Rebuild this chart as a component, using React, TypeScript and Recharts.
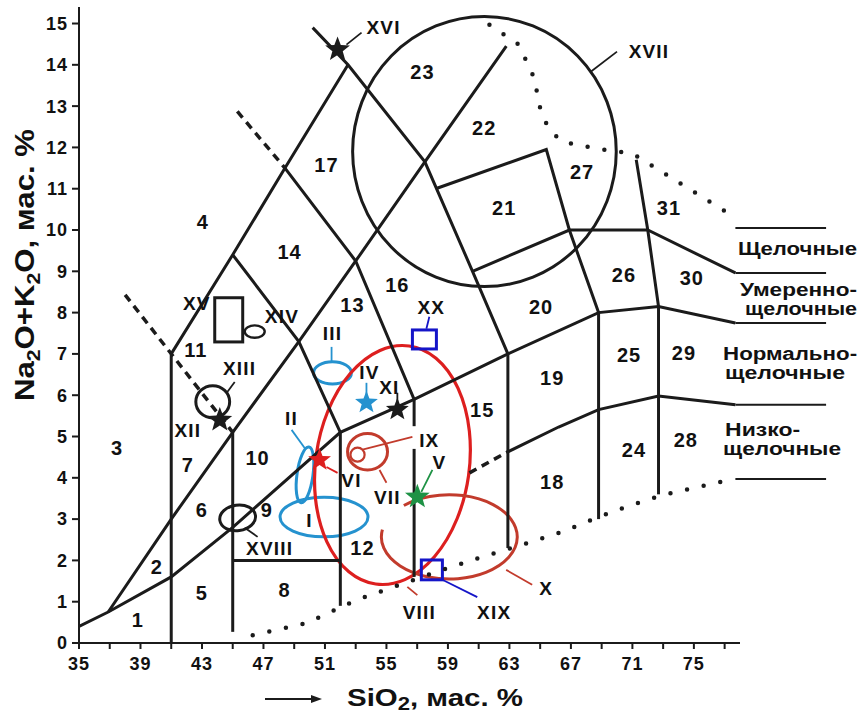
import React from "react";
import {
  ComposedChart,
  Line,
  Scatter,
  XAxis,
  YAxis,
  ReferenceLine,
  ReferenceArea,
  ReferenceDot,
} from "recharts";

type Pt = { x: number; y: number };
const p = (x: number, y: number): Pt => ({ x, y });

const FONT = "'Liberation Sans', Arial, sans-serif";
const INK = "#1b1b1b";
const LIGHT_BLUE = "#2592cf";
const DARK_BLUE = "#1515c8";
const RED = "#dd1f1f";
const BROWN_RED = "#c23b2c";
const GREEN = "#1e9245";

const SIO2_TICKS = [35, 37, 39, 41, 43, 45, 47, 49, 51, 53, 55, 57, 59, 61, 63, 65, 67, 69, 71, 73, 75, 77];
const ALK_TICKS = [0, 1, 2, 3, 4, 5, 6, 7, 8, 9, 10, 11, 12, 13, 14, 15];

// field boundaries, SiO2 vs Na2O+K2O
const NORMAL_MODERATE = [p(35, 0.4), p(36.9, 0.75), p(41, 1.6), p(45, 2.8), p(52, 5.1), p(56.8, 5.9), p(62.9, 7.0), p(68.8, 8.0), p(72.7, 8.15), p(77.7, 7.75)];
const ULTRABASIC = [p(36.9, 0.75), p(41, 3.0), p(45, 5.1), p(49.3, 7.3), p(53, 9.25), p(57.5, 11.65), p(62.8, 14.45)];
const FOIDITE = [p(41, 7), p(45, 9.4), p(48.4, 11.5), p(52.5, 14)];
const PHONOLITE = [p(50.2, 14.9), p(52.5, 14), p(57.5, 11.65), p(60.6, 9.0), p(62.9, 7.0)];
const TEPHRITE = [p(45, 9.4), p(49.3, 7.3), p(52, 5.1)];
const TRACHY = [p(48.4, 11.5), p(53, 9.25), p(56.8, 5.9)];
const ALKALINE = [p(60.6, 9.0), p(66.9, 10.0), p(72.0, 10.0), p(77.7, 8.96)];
const FIELD_27 = [p(58.2, 11.0), p(65.4, 11.95), p(66.9, 10.0), p(68.8, 8.0)];
const FIELD_31 = [p(71.25, 11.7), p(72.0, 10.0), p(72.7, 8.15)];
const LOW_NORMAL = [p(62.9, 4.63), p(66.2, 5.23), p(68.8, 5.65), p(72.7, 5.98), p(77.7, 5.77)];
const STRAIGHTS: Pt[][] = [
  [p(41, 0), p(41, 7)],
  [p(45, 0.27), p(45, 5.1)],
  [p(52, 0.9), p(52, 5.1)],
  [p(56.8, 5.9), p(56.8, 5.25)],
  [p(56.8, 4.7), p(56.8, 1.6)],
  [p(62.9, 7.0), p(62.9, 2.3)],
  [p(68.8, 8.0), p(68.8, 3.0)],
  [p(72.7, 8.15), p(72.7, 3.6)],
  [p(45, 2.0), p(52, 2.0)],
];
const DASHED: Pt[][] = [
  [p(38, 8.43), p(45, 5.1)],
  [p(45.3, 12.87), p(48.4, 11.5)],
  [p(60.4, 4.12), p(62.9, 4.63)],
];
const TOP_DOTTED = [p(61.7, 14.97), p(63.6, 14.49), p(64.6, 13.69), p(65.06, 12.84), p(65.6, 12.43), p(66.4, 12.14), p(68.7, 11.97), p(71.0, 11.85), p(77.1, 10.44)];
const BOTTOM_DOTTED = [p(46.3, 0.19), p(49.8, 0.48), p(53.05, 1.04), p(56.4, 1.48), p(58.25, 1.72), p(60.84, 2.04), p(64.16, 2.42), p(66.43, 2.69), p(68.64, 3.03), p(70.78, 3.32), p(73.05, 3.59), p(75.32, 3.78), p(77.6, 3.97)];

// series names on the right side
const SIDE_LEVELS = [10.05, 8.96, 7.75, 5.77, 3.97];
const SIDE_FROM = 77.7;
const SIDE_TO = 83.6;
const SIDE_LABELS = [
  { x: 77.87, y: 9.56, t: "Щелочные" },
  { x: 78.0, y: 8.55, t: "Умеренно-" },
  { x: 78.33, y: 8.11, t: "щелочные" },
  { x: 76.9, y: 7.02, t: "Нормально-" },
  { x: 77.03, y: 6.56, t: "щелочные" },
  { x: 77.03, y: 5.16, t: "Низко-" },
  { x: 76.9, y: 4.72, t: "щелочные" },
];
const SIDE_WIDTHS = [119, 117, 112, 134, 120, 75, 118];

const FIELD_NUMBERS = [
  { x: 38.83, y: 0.56, t: "1" }, { x: 40.06, y: 1.84, t: "2" }, { x: 37.47, y: 4.72, t: "3" },
  { x: 43.05, y: 10.2, t: "4" }, { x: 42.99, y: 1.21, t: "5" }, { x: 42.99, y: 3.22, t: "6" },
  { x: 42.08, y: 4.31, t: "7" }, { x: 48.38, y: 1.28, t: "8" }, { x: 47.21, y: 3.22, t: "9" },
  { x: 46.62, y: 4.48, t: "10" }, { x: 42.6, y: 7.1, t: "11" }, { x: 53.44, y: 2.3, t: "12" },
  { x: 52.79, y: 8.19, t: "13" }, { x: 48.7, y: 9.47, t: "14" }, { x: 61.23, y: 5.65, t: "15" },
  { x: 55.71, y: 8.67, t: "16" }, { x: 51.1, y: 11.58, t: "17" }, { x: 65.78, y: 3.9, t: "18" },
  { x: 65.78, y: 6.42, t: "19" }, { x: 65.06, y: 8.14, t: "20" }, { x: 62.66, y: 10.54, t: "21" },
  { x: 61.36, y: 12.48, t: "22" }, { x: 57.34, y: 13.84, t: "23" }, { x: 71.1, y: 4.68, t: "24" },
  { x: 70.78, y: 6.98, t: "25" }, { x: 70.45, y: 8.92, t: "26" }, { x: 67.73, y: 11.41, t: "27" },
  { x: 74.48, y: 4.92, t: "28" }, { x: 74.35, y: 7.03, t: "29" }, { x: 74.87, y: 8.84, t: "30" },
  { x: 73.38, y: 10.54, t: "31" },
];

const OBJECT_LABELS = [
  { x: 50.0, y: 2.98, t: "I" }, { x: 48.83, y: 5.45, t: "II" }, { x: 51.49, y: 7.51, t: "III" },
  { x: 53.9, y: 6.57, t: "IV" }, { x: 58.44, y: 4.39, t: "V" }, { x: 52.73, y: 3.95, t: "VI" },
  { x: 55.06, y: 3.54, t: "VII" }, { x: 57.14, y: 0.75, t: "VIII" }, { x: 57.79, y: 4.92, t: "IX" },
  { x: 65.39, y: 1.33, t: "X" }, { x: 55.19, y: 6.2, t: "XI" }, { x: 42.08, y: 5.16, t: "XII" },
  { x: 45.45, y: 6.66, t: "XIII" }, { x: 48.2, y: 7.92, t: "XIV" }, { x: 42.66, y: 8.24, t: "XV" },
  { x: 54.81, y: 14.9, t: "XVI" }, { x: 72.08, y: 14.32, t: "XVII" }, { x: 47.4, y: 2.3, t: "XVIII" },
  { x: 62.01, y: 0.75, t: "XIX" }, { x: 57.92, y: 8.14, t: "XX" },
];

const STARS = [
  { x: 51.82, y: 14.37, id: "XVI" },
  { x: 44.16, y: 5.4, id: "XII" },
  { x: 55.71, y: 5.65, id: "XI" },
  { x: 53.7, y: 5.82, id: "IV" },
  { x: 50.65, y: 4.43, id: "VI" },
  { x: 57.01, y: 3.54, id: "V" },
];

// ellipse outlines given by their bounding boxes
const OVALS = [
  { id: "XVII", x1: 52.8, x2: 69.95, y1: 8.63, y2: 15.17 },
  { id: "XIV", x1: 45.78, x2: 47.08, y1: 7.39, y2: 7.69 },
  { id: "XIII", x1: 42.6, x2: 44.8, y1: 5.45, y2: 6.23 },
  { id: "XVIII", x1: 44.15, x2: 46.49, y1: 2.72, y2: 3.34 },
  { id: "III", x1: 50.26, x2: 52.72, y1: 6.27, y2: 6.81 },
  { id: "II", x1: 49.18, x2: 50.22, y1: 3.39, y2: 4.75 },
  { id: "I", x1: 48.08, x2: 53.8, y1: 2.57, y2: 3.53 },
  { id: "BIG", x1: 50.39, x2: 60.39, y1: 1.4, y2: 7.22 },
  { id: "VII", x1: 52.47, x2: 55.07, y1: 4.19, y2: 5.07 },
  { id: "IX", x1: 52.66, x2: 53.58, y1: 4.39, y2: 4.73 },
];
const X_LOOP = { x1: 54.67, x2: 63.51, y1: 1.55, y2: 3.59 };

const BOXES = [
  { id: "XV", x1: 43.83, x2: 45.65, y1: 7.29, y2: 8.36 },
  { id: "XX", x1: 56.69, x2: 58.25, y1: 7.12, y2: 7.58 },
  { id: "XIX", x1: 57.27, x2: 58.64, y1: 1.53, y2: 2.01 },
];

const LEADERS = [
  { id: "XVII", a: p(70.0, 14.32), b: p(68.31, 13.84) },
  { id: "XVI", a: p(53.38, 14.78), b: p(52.4, 14.49) },
  { id: "XIII", a: p(44.61, 6.06), b: p(45.13, 6.32) },
  { id: "XVIII", a: p(45.78, 2.79), b: p(46.62, 2.57) },
  { id: "XX", a: p(57.79, 7.9), b: p(57.6, 7.61) },
  { id: "III", a: p(51.43, 7.17), b: p(51.43, 6.81) },
  { id: "IV", a: p(53.7, 6.3), b: p(53.7, 5.96) },
  { id: "XI", a: p(55.71, 6.06), b: p(55.71, 5.82) },
  { id: "II", a: p(48.83, 5.16), b: p(49.68, 4.72) },
  { id: "VI", a: p(51.1, 4.26), b: p(51.82, 4.12) },
  { id: "VII", a: p(54.55, 4.19), b: p(55.0, 3.88) },
  { id: "IX", a: p(53.44, 4.68), b: p(56.69, 4.99) },
  { id: "V", a: p(57.99, 4.19), b: p(57.27, 3.66) },
  { id: "X", a: p(62.79, 1.77), b: p(64.48, 1.41) },
  { id: "VIII", a: p(56.36, 1.36), b: p(57.01, 1.16) },
  { id: "XIX", a: p(58.64, 1.53), b: p(60.91, 1.11) },
];

const COLOR: Record<string, string> = {
  I: LIGHT_BLUE, II: LIGHT_BLUE, III: LIGHT_BLUE, IV: LIGHT_BLUE,
  V: GREEN, VI: RED, BIG: RED, VII: BROWN_RED, VIII: BROWN_RED, IX: BROWN_RED, X: BROWN_RED,
  XIX: DARK_BLUE, XX: DARK_BLUE,
};
const colorOf = (id: string) => COLOR[id] ?? INK;
const TILT: Record<string, number> = { BIG: 8, II: 8, XVIII: -8 };
const WIDTH: Record<string, number> = { XVII: 3, BIG: 3.2, IX: 2.2, XIV: 2.4 };

function starPoints(cx: number, cy: number, r: number) {
  const pts: string[] = [];
  for (let i = 0; i < 10; i++) {
    const rr = i % 2 ? r * 0.42 : r;
    const a = -Math.PI / 2 + (i * Math.PI) / 5;
    pts.push(`${cx + rr * Math.cos(a)},${cy + rr * Math.sin(a)}`);
  }
  return pts.join(" ");
}

const textShape = (size: number, spacing: number) => (props: any) => {
  const t = props.payload?.t ?? props.t;
  return (
    <text x={props.cx} y={props.cy} dy="0.36em" textAnchor="middle" fontSize={size} fontWeight={700} fontFamily={FONT} letterSpacing={spacing} fill="#111">
      {t}
    </text>
  );
};

const starShape = (props: any) => {
  const id = props.payload?.id ?? props.id;
  const r = id === "XVI" || id === "XII" || id === "V" ? 13 : 12;
  return <polygon points={starPoints(props.cx, props.cy, r)} fill={colorOf(id)} />;
};

const ovalShape = (id: string) => (r: any) => {
  const cx = r.x + r.width / 2;
  const cy = r.y + r.height / 2;
  const tilt = TILT[id];
  return (
    <ellipse
      cx={cx}
      cy={cy}
      rx={Math.abs(r.width) / 2}
      ry={Math.abs(r.height) / 2}
      fill="none"
      stroke={colorOf(id)}
      strokeWidth={WIDTH[id] ?? 3}
      transform={tilt ? `rotate(${tilt} ${cx} ${cy})` : undefined}
    />
  );
};

const loopShape = (r: any) => {
  const cx = r.x + r.width / 2;
  const cy = r.y + r.height / 2;
  const rx = Math.abs(r.width) / 2;
  const ry = Math.abs(r.height) / 2;
  const a1 = (228 * Math.PI) / 180;
  const a2 = (190 * Math.PI) / 180;
  const d = `M ${cx + rx * Math.cos(a1)} ${cy + ry * Math.sin(a1)} A ${rx} ${ry} 0 1 1 ${cx + rx * Math.cos(a2)} ${cy + ry * Math.sin(a2)}`;
  return <path d={d} fill="none" stroke={BROWN_RED} strokeWidth={3} />;
};

const boxShape = (id: string) => (r: any) => (
  <rect x={r.x} y={r.y} width={Math.abs(r.width)} height={Math.abs(r.height)} fill="none" stroke={colorOf(id)} strokeWidth={3} />
);

function YTitle(props: any) {
  const vb = props.viewBox ?? { x: 19, y: 7, width: 60, height: 636 };
  const cx = vb.x + 5;
  const cy = vb.y + 258;
  return (
    <text x={cx} y={cy} dy="0.36em" textAnchor="middle" transform={`rotate(-90 ${cx} ${cy})`} fontSize={28} fontWeight={700} fontFamily={FONT} fill="#111" textLength={272} lengthAdjust="spacingAndGlyphs">
      Na<tspan dy={6} fontSize={19}>2</tspan>
      <tspan dy={-6}>O+K</tspan>
      <tspan dy={6} fontSize={19}>2</tspan>
      <tspan dy={-6}>O, мас. %</tspan>
    </text>
  );
}

function XTitle(props: any) {
  const vb = props.viewBox ?? { x: 79, y: 643, width: 661, height: 40 };
  const y = vb.y + 56;
  const x0 = vb.x + 186;
  return (
    <g>
      <line x1={x0} y1={y} x2={x0 + 50} y2={y} stroke={INK} strokeWidth={2} />
      <polygon points={`${x0 + 57},${y} ${x0 + 46},${y - 4} ${x0 + 46},${y + 4}`} fill={INK} />
      <text x={vb.x + 268} y={y + 7} fontSize={24} fontWeight={700} fontFamily={FONT} fill="#111" textLength={176} lengthAdjust="spacingAndGlyphs">
        SiO<tspan dy={4} fontSize={18}>2</tspan>
        <tspan dy={-4}>, мас. %</tspan>
      </text>
    </g>
  );
}

const lineProps = {
  dataKey: "y",
  dot: false,
  activeDot: false,
  isAnimationActive: false,
  type: "linear" as const,
  stroke: INK,
  legendType: "none" as const,
};

export default function App() {
  const solid = [NORMAL_MODERATE, ULTRABASIC, FOIDITE, PHONOLITE, TEPHRITE, TRACHY, ALKALINE, FIELD_27, FIELD_31, LOW_NORMAL, ...STRAIGHTS];
  const tick = { fontSize: 18, fontWeight: 700, fill: "#111", fontFamily: FONT, letterSpacing: 1 };
  return (
    <div style={{ position: "absolute", left: 0, top: 0, width: 861, height: 715, background: "#fff" }}>
      <ComposedChart width={861} height={715} margin={{ top: 7, right: 121, bottom: 32, left: 19 }}>
        <XAxis
          type="number"
          dataKey="x"
          domain={[35, 78]}
          ticks={SIO2_TICKS}
          interval={0}
          allowDataOverflow
          tickFormatter={(v: number) => ((v - 35) % 4 === 0 ? String(v) : "")}
          tickSize={6}
          tickMargin={8}
          height={40}
          axisLine={{ stroke: INK, strokeWidth: 2 }}
          tickLine={{ stroke: INK, strokeWidth: 2 }}
          tick={tick}
          label={<XTitle />}
        />
        <YAxis
          type="number"
          dataKey="y"
          domain={[0, 15.4]}
          ticks={ALK_TICKS}
          interval={0}
          allowDataOverflow
          width={60}
          tickSize={7}
          tickMargin={4}
          axisLine={{ stroke: INK, strokeWidth: 2 }}
          tickLine={{ stroke: INK, strokeWidth: 2 }}
          tick={tick}
          label={<YTitle />}
        />

        {solid.map((d, i) => (
          <Line key={`s${i}`} {...lineProps} data={d} strokeWidth={3} />
        ))}
        {DASHED.map((d, i) => (
          <Line key={`d${i}`} {...lineProps} data={d} strokeWidth={3.5} strokeDasharray="8 6" />
        ))}
        {[TOP_DOTTED, BOTTOM_DOTTED].map((d, i) => (
          <Line key={`o${i}`} {...lineProps} data={d} strokeWidth={4.5} strokeDasharray="0 17" strokeLinecap="round" />
        ))}

        {SIDE_LEVELS.map((lv) => (
          <ReferenceLine key={`h${lv}`} segment={[{ x: SIDE_FROM, y: lv }, { x: SIDE_TO, y: lv }]} stroke={INK} strokeWidth={2} ifOverflow="visible" />
        ))}

        {OVALS.map((o) => (
          <ReferenceArea key={o.id} x1={o.x1} x2={o.x2} y1={o.y1} y2={o.y2} ifOverflow="visible" shape={ovalShape(o.id)} />
        ))}
        <ReferenceArea x1={X_LOOP.x1} x2={X_LOOP.x2} y1={X_LOOP.y1} y2={X_LOOP.y2} ifOverflow="visible" shape={loopShape} />
        {BOXES.map((b) => (
          <ReferenceArea key={b.id} x1={b.x1} x2={b.x2} y1={b.y1} y2={b.y2} ifOverflow="visible" shape={boxShape(b.id)} />
        ))}
        {LEADERS.map((l) => (
          <ReferenceLine key={`l${l.id}`} segment={[l.a, l.b]} stroke={colorOf(l.id)} strokeWidth={1.8} ifOverflow="visible" />
        ))}

        <Scatter data={STARS} shape={starShape} isAnimationActive={false} legendType="none" />
        <Scatter data={FIELD_NUMBERS} shape={textShape(20, 1)} isAnimationActive={false} legendType="none" />
        <Scatter data={OBJECT_LABELS} shape={textShape(19, 1.2)} isAnimationActive={false} legendType="none" />

        {SIDE_LABELS.map((s, i) => (
          <ReferenceDot
            key={`t${i}`}
            x={s.x}
            y={s.y}
            r={0}
            ifOverflow="visible"
            shape={(pp: any) => (
              <text x={pp.cx} y={pp.cy} dy="0.36em" fontSize={18} fontWeight={700} fontFamily={FONT} fill="#111" textLength={SIDE_WIDTHS[i]} lengthAdjust="spacingAndGlyphs">
                {s.t}
              </text>
            )}
          />
        ))}
      </ComposedChart>
    </div>
  );
}
